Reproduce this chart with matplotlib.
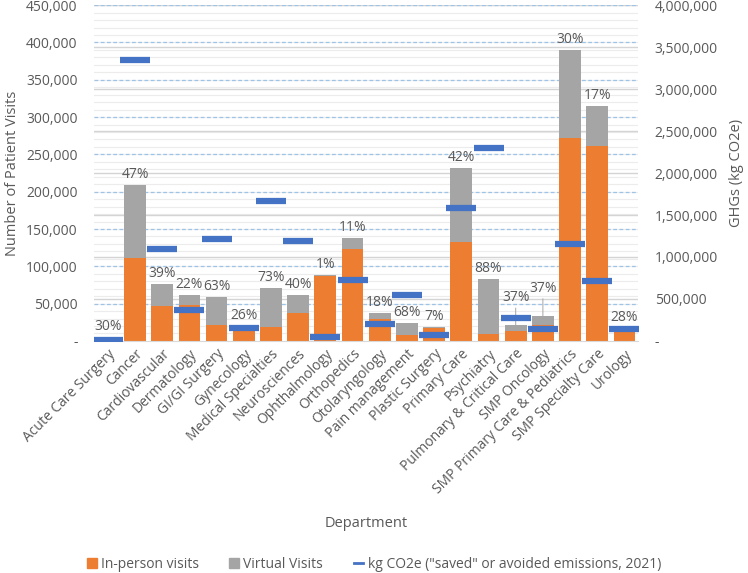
"""Patient visits by department (in-person vs virtual) with avoided GHG emissions."""
import numpy as np
import matplotlib.pyplot as plt
from matplotlib.ticker import FuncFormatter, MultipleLocator
from matplotlib.lines import Line2D
from matplotlib.patches import Patch

plt.rcParams['font.family'] = ['Open Sans', 'DejaVu Sans']

departments = [
    'Acute Care Surgery', 'Cancer', 'Cardiovascular', 'Dermatology', 'GI/GI Surgery',
    'Gynecology', 'Medical Specialties', 'Neurosciences', 'Ophthalmology', 'Orthopedics',
    'Otolaryngology', 'Pain management', 'Plastic Surgery', 'Primary Care', 'Psychiatry',
    'Pulmonary & Critical Care', 'SMP Oncology', 'SMP Primary Care & Pediatrics',
    'SMP Specialty Care', 'Urology',
]
in_person = [3500, 111400, 46500, 47800, 21500, 14800, 18900, 36800, 87300, 122600,
             30000, 7700, 17500, 132900, 9900, 13200, 21100, 272600, 261800, 12900]
virtual = [1500, 97600, 29200, 13500, 37300, 5200, 51400, 24500, 900, 14800,
           6800, 16500, 1300, 98400, 72900, 7800, 12400, 117500, 53600, 5000]
virtual_pct = ['30%', '47%', '39%', '22%', '63%', '26%', '73%', '40%', '1%', '11%',
               '18%', '68%', '7%', '42%', '88%', '37%', '37%', '30%', '17%', '28%']
kg_co2e = [10000, 3344000, 1097000, 370000, 1216000, 155000, 1670000, 1193000, 48000, 727000,
           203000, 549000, 72000, 1579000, 2302000, 279000, 140000, 1157000, 712000, 140000]

ORANGE = '#ED7D31'
GRAY = '#A5A5A5'
BLUE = '#4472C4'
TEXT = '#595959'

LEFT_MAX = 450000
RIGHT_MAX = 4000000

x = np.arange(len(departments))
in_person = np.array(in_person)
virtual = np.array(virtual)
total = in_person + virtual

fig = plt.figure(figsize=(7.48, 5.73), dpi=100)
ax1 = fig.add_axes([0.126, 0.405, 0.727, 0.586])
ax2 = ax1.twinx()

# grid: minor light, right-axis majors solid gray, left majors dashed blue
for v in np.arange(10000, LEFT_MAX + 1, 10000):
    ax1.axhline(v, color='#ececec', lw=0.8, zorder=0)
for v in np.arange(1, 9) * 500000 * LEFT_MAX / RIGHT_MAX:
    ax1.axhline(v, color='#d4d4d4', lw=1.0, zorder=0.5)
for v in np.arange(50000, LEFT_MAX + 1, 50000):
    ax1.axhline(v, color='#9dc3e6', lw=0.9, ls=(0, (3, 2)), zorder=0.6)

ax1.bar(x, in_person, width=0.8, color=ORANGE, zorder=2)
ax1.bar(x, virtual, bottom=in_person, width=0.8, color=GRAY, zorder=2)

# percent labels (two of them lifted with leader lines)
lifted = {15: 20, 16: 20}
for i, (t, lab) in enumerate(zip(total, virtual_pct)):
    lift = lifted.get(i, 3)
    if i in lifted:
        ax1.annotate(lab, xy=(x[i], t), xytext=(0, lift), textcoords='offset pixels',
                     ha='center', va='bottom', fontsize=10, color=TEXT, zorder=5,
                     arrowprops=dict(arrowstyle='-', color='#a6a6a6', lw=0.7,
                                     shrinkA=0, shrinkB=0))
    else:
        ax1.annotate(lab, xy=(x[i], t), xytext=(0, lift), textcoords='offset pixels',
                     ha='center', va='bottom', fontsize=10, color=TEXT, zorder=5)

ax2.plot(x, kg_co2e, linestyle='none', marker='_', markersize=21, markeredgewidth=4.5,
         color=BLUE, zorder=3)

ax1.set_xlim(-0.5, len(departments) - 0.5)
ax1.set_ylim(0, LEFT_MAX)
ax2.set_ylim(0, RIGHT_MAX)
ax1.yaxis.set_major_locator(MultipleLocator(50000))
ax2.yaxis.set_major_locator(MultipleLocator(500000))

fmt = FuncFormatter(lambda v, p: '-' if v == 0 else f'{int(v):,}')
ax1.yaxis.set_major_formatter(fmt)
ax2.yaxis.set_major_formatter(fmt)

ax1.set_xticks(x)
ax1.set_xticklabels(departments, rotation=45, ha='right', rotation_mode='anchor')

for ax in (ax1, ax2):
    ax.tick_params(length=0, labelsize=10, colors=TEXT)
    for s in ax.spines.values():
        s.set_visible(False)
ax1.spines['bottom'].set_visible(True)
ax1.spines['bottom'].set_color('#d9d9d9')
ax1.tick_params(axis='y', pad=12)
ax1.tick_params(axis='x', pad=4)
ax2.tick_params(axis='y', pad=12)
ax2.patch.set_visible(False)

ax1.set_ylabel('Number of Patient Visits', fontsize=10.5, color=TEXT, labelpad=4)
ax2.set_ylabel('GHGs (kg CO2e)', fontsize=10.5, color=TEXT, labelpad=8)
ax1.set_xlabel('Department', fontsize=10.5, color=TEXT, labelpad=14)

handles = [
    Patch(color=ORANGE, label='In-person visits'),
    Patch(color=GRAY, label='Virtual Visits'),
    Line2D([], [], color=BLUE, lw=2, label='kg CO2e ("saved" or avoided emissions, 2021)'),
]
fig.legend(handles=handles, loc='center', bbox_to_anchor=(0.5, 0.015), ncol=3,
           frameon=False, fontsize=10, labelcolor=TEXT, handlelength=0.7, handleheight=0.7,
           handletextpad=0.3, columnspacing=2.2)

fig.savefig('out.png', dpi=100, facecolor='white')
